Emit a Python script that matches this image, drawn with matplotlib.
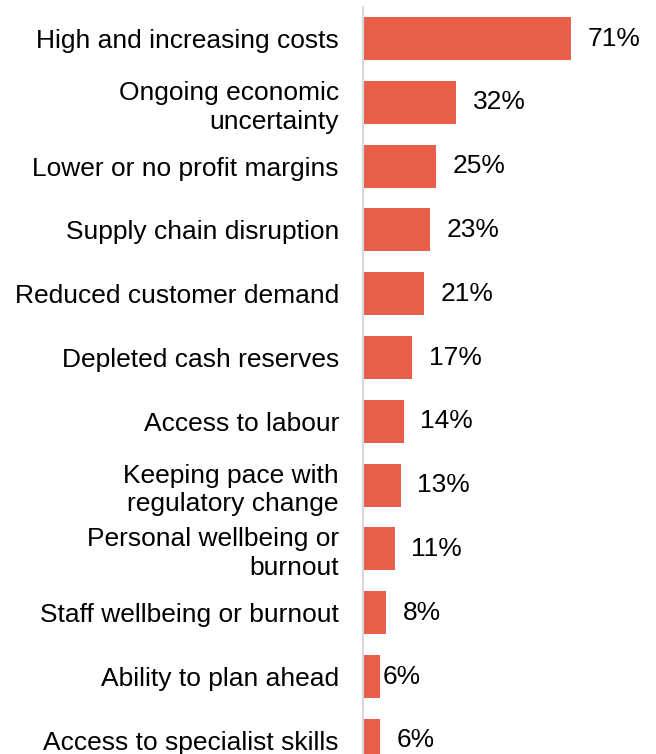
import matplotlib
matplotlib.use("Agg")
import matplotlib.pyplot as plt

plt.rcParams['font.family'] = ['Liberation Sans', 'DejaVu Sans']

categories = [
    "High and increasing costs",
    "Ongoing economic\nuncertainty",
    "Lower or no profit margins",
    "Supply chain disruption",
    "Reduced customer demand",
    "Depleted cash reserves",
    "Access to labour",
    "Keeping pace with\nregulatory change",
    "Personal wellbeing or\nburnout",
    "Staff wellbeing or burnout",
    "Ability to plan ahead",
    "Access to specialist skills",
]
values = [71, 32, 25, 23, 21, 17, 14, 13, 11, 8, 6, 6]
value_labels = ["71%", "32%", "25%", "23%", "21%", "17%", "14%", "13%", "11%", "8%", "6%", "6%"]

# gap between bar end and its label, in points (the reference has one that hugs its bar)
label_pad = [12] * 12
label_pad[10] = 2

bar_color = "#E8604A"
fs = 19

fig = plt.figure(figsize=(6.56, 7.54), dpi=100)
W, H = 656.0, 754.0
step = 63.8  # pixels between bar centres
ax = fig.add_axes([362.5 / W, 0, (W - 362.5) / W, (H - 7) / H])

y = list(range(len(categories)))
ax.barh(y, values, height=43 / step, color=bar_color)

ax.set_xlim(0, (W - 362.5) / 2.93)
ax.set_ylim((H - 38.5) / step, -(31.5 / step))

for i, (v, lab) in enumerate(zip(values, value_labels)):
    ax.annotate(lab, (v, i), xytext=(label_pad[i], 0), textcoords="offset points",
                ha="left", va="center", fontsize=fs, color="#000000")

ax.set_yticks(y)
ax.set_yticklabels(categories, fontsize=fs, linespacing=1.25)
ax.tick_params(axis="y", length=0, pad=17)
ax.set_xticks([])

for s in ["top", "right", "bottom"]:
    ax.spines[s].set_visible(False)
ax.spines["left"].set_color("#d9d9d9")
ax.spines["left"].set_linewidth(1.5)

fig.savefig("out.png", dpi=100)
